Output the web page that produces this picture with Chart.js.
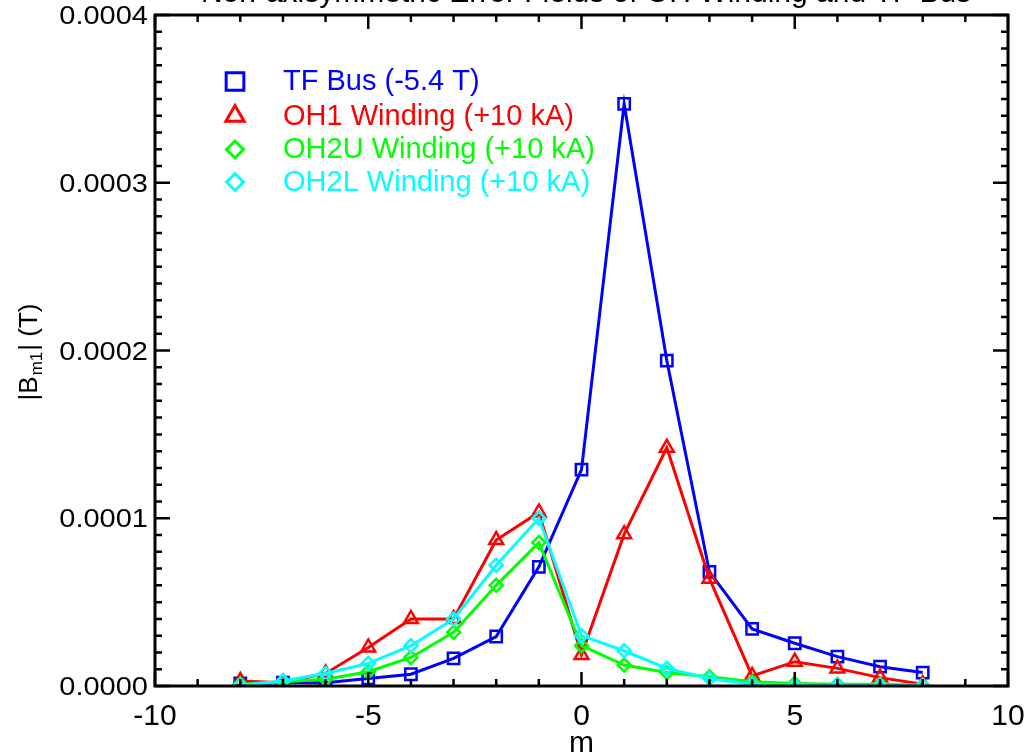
<!DOCTYPE html>
<html>
<head>
<meta charset="utf-8">
<script src="https://cdn.jsdelivr.net/npm/chart.js@4.4.0/dist/chart.umd.min.js"></script>
<style>
  html, body { margin: 0; padding: 0; background: #fff; }
  #wrap { width: 1025px; height: 755px; position: relative; }
</style>
</head>
<body>
<div id="wrap"><canvas id="grafico"></canvas></div>
<script>
// dados
const modosM = [-8, -7, -6, -5, -4, -3, -2, -1, 0, 1, 2, 3, 4, 5, 6, 7, 8];
const tfBus = [0.15e-5, 0.2e-5, 0.2e-5, 0.45e-5, 0.7e-5, 1.65e-5, 2.95e-5, 7.1e-5, 12.9e-5, 34.7e-5, 19.4e-5, 6.8e-5, 3.4e-5, 2.55e-5, 1.75e-5, 1.15e-5, 0.8e-5];
const oh1 = [0.3e-5, 0.2e-5, 0.75e-5, 2.3e-5, 4.0e-5, 4.0e-5, 8.7e-5, 10.35e-5, 1.85e-5, 9.05e-5, 14.2e-5, 6.4e-5, 0.6e-5, 1.45e-5, 1.05e-5, 0.5e-5, 0.1e-5];
const oh2u = [0.1e-5, 0.25e-5, 0.4e-5, 0.85e-5, 1.7e-5, 3.2e-5, 6.0e-5, 8.55e-5, 2.4e-5, 1.25e-5, 0.8e-5, 0.55e-5, 0.25e-5, 0.15e-5, 0.1e-5, 0.1e-5, 0.05e-5];
const oh2l = [0.05e-5, 0.3e-5, 0.75e-5, 1.35e-5, 2.4e-5, 4.0e-5, 7.2e-5, 10.0e-5, 3.0e-5, 2.1e-5, 1.05e-5, 0.45e-5, 0.1e-5, 0.05e-5, 0.05e-5, 0.05e-5, 0.05e-5];
const rotulosSeries = ['TF Bus (-5.4 T)', 'OH1 Winding (+10 kA)', 'OH2U Winding (+10 kA)', 'OH2L Winding (+10 kA)'];
const ticksX = [-10, -5, 0, 5, 10];
const ticksY = [0, 0.0001, 0.0002, 0.0003, 0.0004];
const tituloGrafico = 'Non-axisymmetric Error Fields of OH Winding and TF Bus';

const coresSeries = ['#0000ff', '#ff0000', '#00ff00', '#00ffff'];
const estilosPontos = ['rect', 'triangle', 'rectRot', 'rectRot'];
const raiosPontos = [8, 8, 6.5, 6.5];
const raiosLegenda = [12.5, 10.5, 8.5, 8.5];
const FONTE = '"Liberation Sans", Arial, Helvetica, sans-serif';

function montarPontos(valores) {
  return modosM.map((m, i) => ({ x: m, y: valores[i] }));
}

const seriesValores = [tfBus, oh1, oh2u, oh2l];
const datasets = seriesValores.map((vals, i) => ({
  label: rotulosSeries[i],
  data: montarPontos(vals),
  showLine: true,
  borderColor: coresSeries[i],
  backgroundColor: 'transparent',
  borderWidth: 3,
  pointStyle: estilosPontos[i],
  pointRadius: raiosPontos[i],
  pointBorderWidth: 2.5,
  pointBorderColor: coresSeries[i],
  pointBackgroundColor: 'transparent',
  order: 3 - i
}));

// moldura, marcas de escala, rotulos, titulos e legenda (estilo IDL)
const pluginEixos = {
  id: 'eixosIDL',
  afterDraw(chart) {
    const c = chart.ctx;
    const a = chart.chartArea;
    const sx = chart.scales.x, sy = chart.scales.y;
    c.save();
    c.strokeStyle = '#000';
    c.lineWidth = 3;
    c.strokeRect(a.left, a.top, a.right - a.left, a.bottom - a.top);

    c.lineWidth = 2.5;
    c.beginPath();
    for (let v = -10; v <= 10; v++) {
      const px = sx.getPixelForValue(v);
      const len = v % 5 === 0 ? 14 : 7;
      c.moveTo(px, a.bottom); c.lineTo(px, a.bottom - len);
      c.moveTo(px, a.top); c.lineTo(px, a.top + len);
    }
    for (let k = 0; k <= 40; k++) {
      const py = sy.getPixelForValue(k * 1e-5);
      const len = k % 10 === 0 ? 15 : 7;
      c.moveTo(a.left, py); c.lineTo(a.left + len, py);
      c.moveTo(a.right, py); c.lineTo(a.right - len, py);
    }
    c.stroke();

    c.fillStyle = '#000';
    // rotulos do eixo x
    c.font = '30px ' + FONTE;
    c.textAlign = 'center';
    c.textBaseline = 'alphabetic';
    ticksX.forEach(v => {
      c.fillText(String(v), sx.getPixelForValue(v), 725);
    });
    c.fillText(tituloGrafico, 586, 2);
    c.fillText('m', (a.left + a.right) / 2, 752);

    // rotulos do eixo y (fonte esticada na horizontal)
    c.font = '25px ' + FONTE;
    c.textAlign = 'right';
    ticksY.forEach(v => {
      const py = sy.getPixelForValue(v);
      c.save();
      c.translate(148, py + 9);
      c.scale(1.16, 1);
      c.fillText(v.toFixed(4), 0, 0);
      c.restore();
    });

    // titulo do eixo y com subscrito
    c.save();
    c.translate(37, 352);
    c.rotate(-Math.PI / 2);
    c.textAlign = 'left';
    const p1 = '|B', p2 = 'm1', p3 = '| (T)';
    c.font = '26px ' + FONTE;
    const w1 = c.measureText(p1).width, w3 = c.measureText(p3).width;
    c.font = '17px ' + FONTE;
    const w2 = c.measureText(p2).width;
    const x0 = -(w1 + w2 + w3 + 2) / 2;
    c.font = '26px ' + FONTE;
    c.fillText(p1, x0, 0);
    c.font = '17px ' + FONTE;
    c.fillText(p2, x0 + w1 + 1, 5);
    c.font = '26px ' + FONTE;
    c.fillText(p3, x0 + w1 + w2 + 2, 0);
    c.restore();

    // legenda
    c.font = '29px ' + FONTE;
    c.textAlign = 'left';
    c.textBaseline = 'alphabetic';
    const linhasY = [81.5, 116, 149.5, 182];
    chart.data.datasets.forEach((ds, i) => {
      c.strokeStyle = ds.borderColor;
      c.fillStyle = 'rgba(0,0,0,0)';
      c.lineWidth = 3;
      Chart.helpers.drawPoint(c, {
        pointStyle: ds.pointStyle,
        radius: raiosLegenda[i],
        borderWidth: 3,
        rotation: 0
      }, 235, linhasY[i]);
      c.fillStyle = ds.borderColor;
      c.fillText(ds.label, 283, linhasY[i] + 8.5);
    });
    c.restore();
  }
};

const ctx = document.getElementById('grafico').getContext('2d');
new Chart(ctx, {
  type: 'scatter',
  data: { datasets },
  options: {
    responsive: true,
    maintainAspectRatio: false,
    animation: false,
    layout: { padding: { left: 155, top: 15, right: 17, bottom: 69 } },
    plugins: {
      legend: { display: false },
      tooltip: { enabled: false }
    },
    scales: {
      x: { type: 'linear', min: -10, max: 10, display: false },
      y: { type: 'linear', min: 0, max: 0.0004, display: false }
    }
  },
  plugins: [pluginEixos]
});
</script>
</body>
</html>
